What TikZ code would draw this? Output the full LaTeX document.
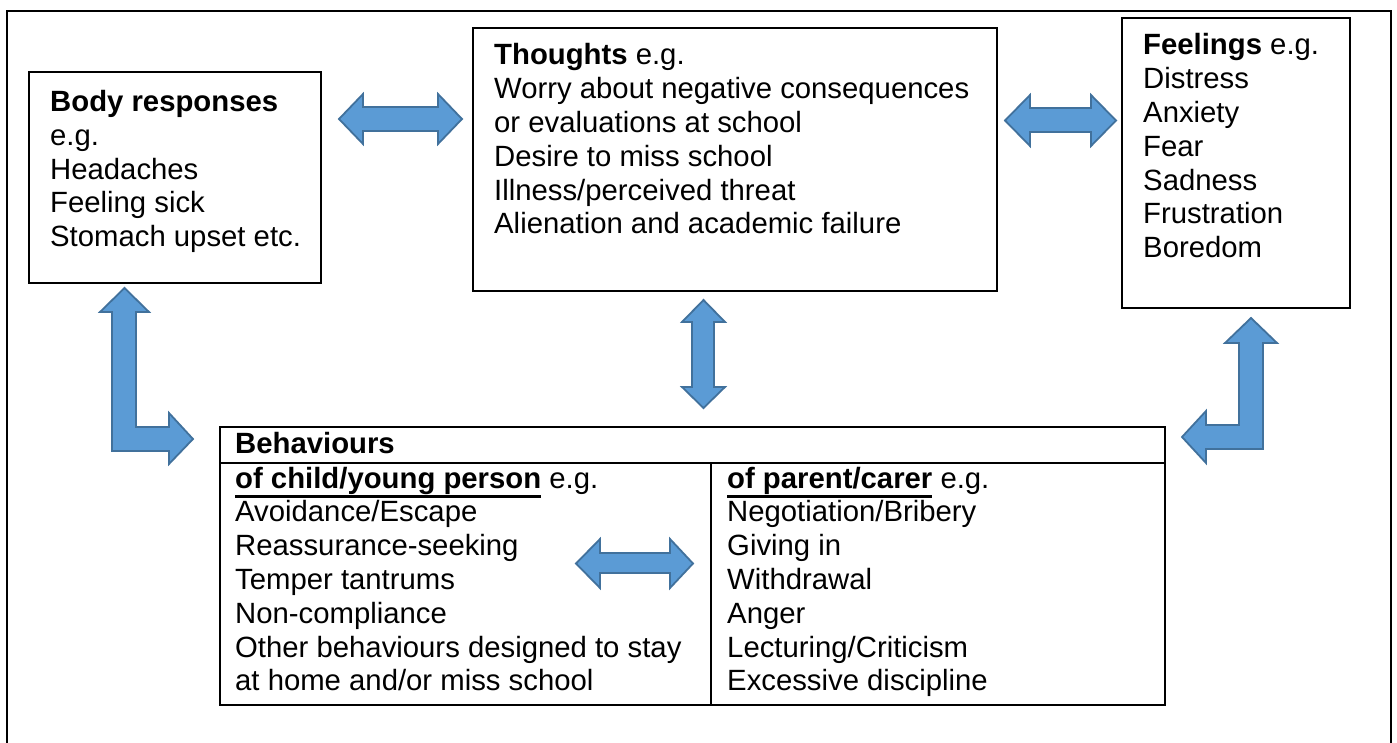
\documentclass[tikz,border=0pt]{standalone}
\usepackage{fontspec}
\setmainfont{Liberation Sans}
\usetikzlibrary{fit}
\definecolor{arrfill}{HTML}{5B9BD5}
\definecolor{arrline}{HTML}{41719C}
\newcommand\ulbold[1]{\setbox0\hbox{\bfseries #1}\rlap{\rule[-9.5pt]{\wd0}{2.2pt}}\box0\relax}
\newcommand\txtlines[1]{\begin{tabular}[t]{@{}l@{}}#1\end{tabular}}
\begin{document}
\begin{tikzpicture}[x=1pt,y=-1pt,
  font=\fontsize{29.3}{33.8}\selectfont,
  box/.style={draw=black, line width=2pt, inner sep=0pt},
  arr/.style={fill=arrfill, draw=arrline, line width=1.8pt, line join=miter},
  txt/.style={inner sep=0pt, anchor=base west}]
\useasboundingbox (0,0) rectangle (1397,743);
\fill[white] (0,0) rectangle (1397,743);
% outer frame
\draw[line width=2.5pt] (7,746) -- (7,11) -- (1391,11) -- (1391,746);
% boxes
\node[box, fit={(29,72) (321,283)}] (body) {};
\node[box, fit={(473,28) (997,291)}] (thoughts) {};
\node[box, fit={(1122,18) (1350,308)}] (feelings) {};
\node[box, fit={(220,427) (1165,705)}] (behav) {};
\draw[line width=2pt] (220,463) -- (1165,463);
\draw[line width=2pt] (711,463) -- (711,705);
% texts
\node[txt] (tbody) at (50,111.5) {\txtlines{\textbf{Body responses}\\e.g.\\Headaches\\Feeling sick\\Stomach upset etc.}};
\node[txt] (tthoughts) at (494,65) {\txtlines{\textbf{Thoughts} e.g.\\Worry about negative consequences\\or evaluations at school\\Desire to miss school\\Illness/perceived threat\\Alienation and academic failure}};
\node[txt] (tfeelings) at (1143,55) {\txtlines{\textbf{Feelings} e.g.\\Distress\\Anxiety\\Fear\\Sadness\\Frustration\\Boredom}};
\node[txt] (tbehav) at (235,453) {\textbf{Behaviours}};
\node[txt] (tchild) at (235,488) {\txtlines{\ulbold{of child/young person} e.g.\\Avoidance/Escape\\Reassurance-seeking\\Temper tantrums\\Non-compliance\\Other behaviours designed to stay\\at home and/or miss school}};
\node[txt] (tparent) at (727,488) {\txtlines{\ulbold{of parent/carer} e.g.\\Negotiation/Bribery\\Giving in\\Withdrawal\\Anger\\Lecturing/Criticism\\Excessive discipline}};
% block arrows
\draw[arr] (339,119) -- (363,94) -- (363,107) -- (438,107) -- (438,94) -- (462,119) -- (438,144) -- (438,131) -- (363,131) -- (363,144) -- cycle;
\draw[arr] (1005,120.5) -- (1030,95) -- (1030,108) -- (1091,108) -- (1091,95) -- (1116,120.5) -- (1091,146) -- (1091,132) -- (1030,132) -- (1030,146) -- cycle;
\draw[arr] (703.5,300) -- (725,322) -- (714,322) -- (714,387) -- (725,387) -- (703.5,408) -- (682,387) -- (692,387) -- (692,322) -- (682,322) -- cycle;
\draw[arr] (576,563.5) -- (600,539) -- (600,553) -- (670,553) -- (670,539) -- (693,563.5) -- (670,588) -- (670,573) -- (600,573) -- (600,588) -- cycle;
\draw[arr] (124.5,288) -- (149,312) -- (136,312) -- (136,427) -- (169,427) -- (169,413) -- (193,439) -- (169,464) -- (169,451) -- (112,451) -- (112,312) -- (100,312) -- cycle;
\draw[arr] (1251,318) -- (1277,343) -- (1263,343) -- (1263,449) -- (1206,449) -- (1206,463) -- (1182,437) -- (1206,411) -- (1206,425) -- (1239,425) -- (1239,343) -- (1225,343) -- cycle;
\end{tikzpicture}
\end{document}
